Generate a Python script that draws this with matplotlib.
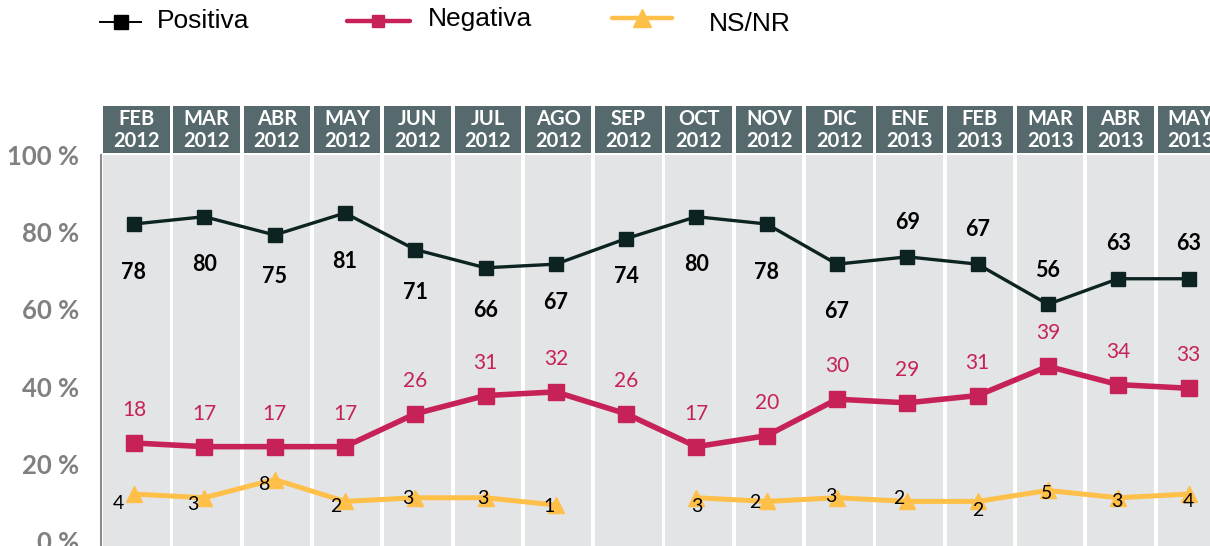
import numpy as np
import matplotlib
matplotlib.use("Agg")
import matplotlib.pyplot as plt

# ---------------- data ----------------
months = ["FEB", "MAR", "ABR", "MAY", "JUN", "JUL", "AGO", "SEP",
          "OCT", "NOV", "DIC", "ENE", "FEB", "MAR", "ABR", "MAY"]
years = ["2012"] * 11 + ["2013"] * 5
positiva = [78, 80, 75, 81, 71, 66, 67, 74, 80, 78, 67, 69, 67, 56, 63, 63]
negativa = [18, 17, 17, 17, 26, 31, 32, 26, 17, 20, 30, 29, 31, 39, 34, 33]
nsnr = [4, 3, 8, 2, 3, 3, 1, np.nan, 3, 2, 3, 2, 2, 5, 3, 4]
yticks = [0, 20, 40, 60, 80, 100]

# ---------------- style ----------------
C_POS = "#0c2322"
C_NEG = "#c62258"
C_NS = "#ffc04a"
C_BG = "#e3e4e6"
C_HEAD = "#56696c"
C_TICK = "#808080"
NUMFONT = "Lato"

W, H = 1210, 546
fig = plt.figure(figsize=(W / 100, H / 100), dpi=100)

def px2fig(x0, y0, x1, y1):
    return [x0 / W, 1 - y1 / H, (x1 - x0) / W, (y1 - y0) / H]

n = len(months)
x = np.arange(n)
xlim = ((101 - 134) / 70.3, (1210 - 134) / 70.3)

# main axes: label scale (0 % at px 541, 100 % at px 155)
ax = fig.add_axes(px2fig(101, 155, 1210, 546))
ax.set_xlim(*xlim)
ax.set_ylim(-5 / 3.86, 100)
ax.set_facecolor("white")
for i in x:
    ax.axvspan(i - 0.44, i + 0.505, color=C_BG, lw=0, zorder=0)
for s in ["top", "right", "bottom"]:
    ax.spines[s].set_visible(False)
ax.spines["left"].set_color("#8c8c8c")
ax.spines["left"].set_linewidth(1.5)
ax.set_xticks([])
ax.set_yticks(yticks)
ax.set_yticklabels([f"{v} %" for v in yticks])
ax.tick_params(axis="y", length=0, pad=16, labelcolor=C_TICK, labelsize=18.5)
for lab in ax.get_yticklabels():
    lab.set_fontweight("bold")
    lab.set_fontfamily(NUMFONT)

# data axes (data scale of the drawn series)
ax2 = ax.twinx()
ax2.patch.set_visible(False)
ax2.set_xlim(*xlim)
ax2.set_ylim((508.7 - 546) / 3.65, (508.7 - 155) / 3.65)
ax2.axis("off")

ax2.plot(x, nsnr, color=C_NS, lw=3.6, marker="^", ms=11.5, zorder=3, clip_on=False)
ax2.plot(x, negativa, color=C_NEG, lw=4.0, marker="s", ms=11, zorder=4, clip_on=False)
ax2.plot(x, positiva, color=C_POS, lw=2.4, marker="s", ms=10, zorder=5, clip_on=False)

# positiva labels (offsets in px, positive = downward)
pos_off = [48, 48, 42, 48, 43, 43, 38, 38, 48, 48, 47, -34, -35, -34, -35, -35]
for i, (v, d) in enumerate(zip(positiva, pos_off)):
    ax2.annotate(str(v), (i, v), xytext=(0, -d * 0.72), textcoords="offset points",
                 ha="center", va="center", fontsize=15.5, fontweight="bold",
                 family=NUMFONT, color="black", zorder=6, annotation_clip=False)

for i, v in enumerate(negativa):
    ax2.annotate(str(v), (i, v), xytext=(0, 33 * 0.72), textcoords="offset points",
                 ha="center", va="center", fontsize=15, family=NUMFONT,
                 color=C_NEG, zorder=6, annotation_clip=False)

ns_off = [(-16, 9), (-11, 7), (-10, 5), (-9, 5), (-7, 1), (-3, 1), (-7, 1), (0, 0),
          (0, 9), (-12, 1), (-6, -1), (-9, -3), (0, 9), (-1, 3), (-1, 4), (0, 7)]
for i, (v, (dx, dy)) in enumerate(zip(nsnr, ns_off)):
    if np.isnan(v):
        continue
    ax2.annotate(str(int(v)), (i, v), xytext=(dx * 0.72, -dy * 0.72), textcoords="offset points",
                 ha="center", va="center", fontsize=14, family=NUMFONT,
                 color="black", zorder=6, annotation_clip=False)

# header
axh = fig.add_axes(px2fig(101, 106, 1210, 153))
axh.set_xlim(*xlim)
axh.set_ylim(0, 1)
axh.axis("off")
for i in x:
    axh.axvspan(i - 0.44, i + 0.505, color=C_HEAD, lw=0)
    cx = i + 0.033
    axh.text(cx, 0.72, months[i], ha="center", va="center", color="white",
             fontsize=14.5, fontweight="bold", family=NUMFONT, clip_on=False)
    axh.text(cx, 0.26, years[i], ha="center", va="center", color="white",
             fontsize=14.5, fontweight="bold", family=NUMFONT, clip_on=False)

# legend (drawn manually in pixel space)
axl = fig.add_axes([0, 0, 1, 1])
axl.set_xlim(0, W)
axl.set_ylim(H, 0)
axl.axis("off")
axl.plot([100, 141], [22, 22], color="black", lw=1.4)
axl.plot([120.5], [22], marker="s", ms=10, color="black")
axl.text(157, 21, "Positiva", fontsize=19, family="Liberation Sans", va="center", ha="left")
axl.plot([347, 410], [21, 21], color=C_NEG, lw=3.2, solid_capstyle="round")
axl.plot([378], [21], marker="s", ms=8.5, color=C_NEG)
axl.text(428, 19, "Negativa", fontsize=19, family="Liberation Sans", va="center", ha="left")
axl.plot([612, 672], [18, 18], color=C_NS, lw=3.2, solid_capstyle="round")
axl.plot([642], [18], marker="^", ms=13, color=C_NS)
axl.text(709, 24, "NS/NR", fontsize=19, family="Liberation Sans", va="center", ha="left")

fig.savefig("out.png", dpi=100)
